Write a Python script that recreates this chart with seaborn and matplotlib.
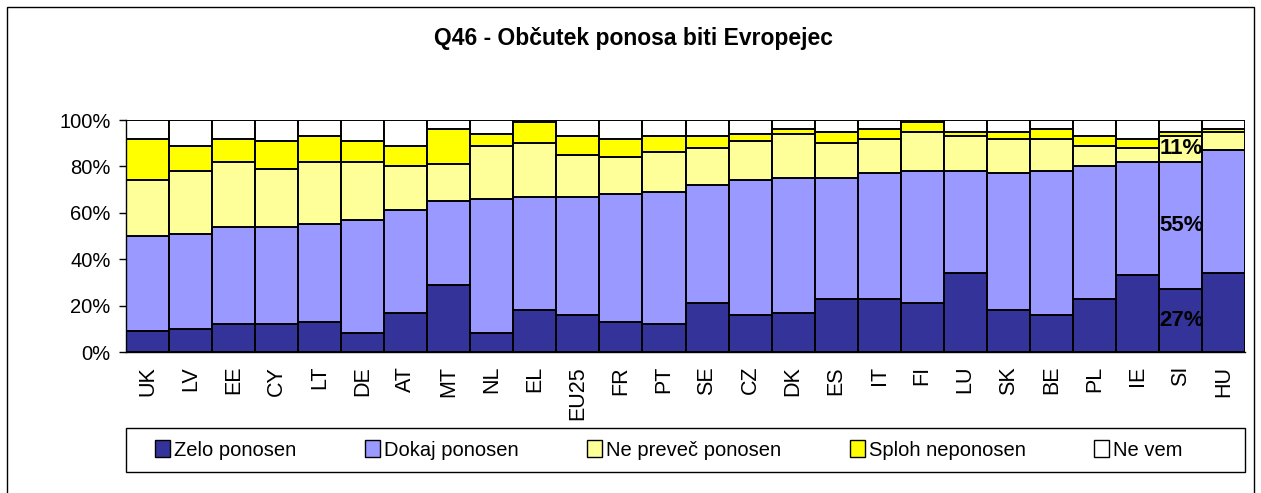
import numpy as np
import pandas as pd
import matplotlib
matplotlib.use("Agg")
import matplotlib.pyplot as plt
import seaborn as sns
from matplotlib.patches import Patch, Rectangle

# Podatki (odstotki)
countries = ["UK", "LV", "EE", "CY", "LT", "DE", "AT", "MT", "NL", "EL", "EU25", "FR", "PT",
             "SE", "CZ", "DK", "ES", "IT", "FI", "LU", "SK", "BE", "PL", "IE", "SI", "HU"]
zelo = [9, 10, 12, 12, 13, 8, 17, 29, 8, 18, 16, 13, 12, 21, 16, 17, 23, 23, 21, 34, 18, 16, 23, 33, 27, 34]
dokaj = [41, 41, 42, 42, 42, 49, 44, 36, 58, 49, 51, 55, 57, 51, 58, 58, 52, 54, 57, 44, 59, 62, 57, 49, 55, 53]
ne_prevec = [24, 27, 28, 25, 27, 25, 19, 16, 23, 23, 18, 16, 17, 16, 17, 19, 15, 15, 17, 15, 15, 14, 9, 6, 11, 8]
sploh = [18, 11, 10, 12, 11, 9, 9, 15, 5, 9, 8, 8, 7, 5, 3, 2, 5, 4, 4, 2, 3, 4, 4, 4, 2, 1]
ne_vem = [8, 11, 8, 9, 7, 9, 11, 4, 6, 1, 7, 8, 7, 7, 6, 4, 5, 4, 1, 5, 5, 4, 7, 8, 5, 4]

labels = ["Zelo ponosen", "Dokaj ponosen", "Ne preveč ponosen", "Sploh neponosen", "Ne vem"]
colors = ["#333399", "#9999FF", "#FFFF99", "#FFFF00", "#FFFFFF"]

sns.set_style("white")
plt.rcParams["font.family"] = ["Liberation Sans", "DejaVu Sans"]
plt.rcParams["text.color"] = "black"
plt.rcParams["xtick.color"] = "black"
plt.rcParams["ytick.color"] = "black"

df = pd.DataFrame({"country": countries, "Zelo ponosen": zelo, "Dokaj ponosen": dokaj,
                   "Ne preveč ponosen": ne_prevec, "Sploh neponosen": sploh, "Ne vem": ne_vem})
cum = df[labels].cumsum(axis=1)

W, H = 1261, 493
fig = plt.figure(figsize=(W / 100, H / 100), dpi=100)
ax = fig.add_axes([126 / W, 1 - 352 / H, (1245 - 126) / W, 232 / H])

# naložene stolpce rišemo od zgoraj navzdol (kumulativno)
for lab, col in zip(labels[::-1], colors[::-1]):
    sns.barplot(x=df["country"], y=cum[lab], color=col, width=1.0, edgecolor="black",
                linewidth=1.4, saturation=1, ax=ax)

ax.set_ylim(0, 100)
ax.set_xlim(-0.5, len(countries) - 0.5)
ax.set_yticks(np.arange(0, 101, 20))
ax.set_yticklabels([f"{v}%" for v in range(0, 101, 20)], fontsize=14.5)
ax.set_xticks(range(len(countries)))
ax.set_xticklabels(countries, rotation=90, fontsize=15.5)
ax.set_xticks(np.arange(0.5, len(countries) - 0.5, 1), minor=True)
ax.tick_params(axis="x", which="major", length=0, pad=10)
ax.tick_params(axis="x", which="minor", length=5, color="black", width=1)
ax.tick_params(axis="y", length=5, color="black", width=1, left=True, pad=6)
ax.set_xlabel("")
ax.set_ylabel("")
for s in ["top", "right"]:
    ax.spines[s].set_visible(False)
for s in ["left", "bottom"]:
    ax.spines[s].set_color("black")
    ax.spines[s].set_linewidth(1)

# oznake za SI
si = countries.index("SI")
si_vals = [zelo[si], dokaj[si], ne_prevec[si]]
si_bottom = [0, zelo[si], zelo[si] + dokaj[si]]
for v, b in zip(si_vals, si_bottom):
    ax.text(si + 0.02, b + v / 2, f"{v}%", ha="center", va="center", fontsize=16,
            fontweight="bold", color="black")

fig.text(634 / W, 1 - 38 / H, "Q46 - Občutek ponosa biti Evropejec", ha="center",
         va="center", fontsize=16.5, fontweight="bold")

# legenda
handles = [Patch(facecolor=c, edgecolor="black", linewidth=1) for c in colors]
leg = fig.legend(handles, labels, ncol=5, loc="center left",
                 bbox_to_anchor=(155 / W, 1 - 450 / H), fontsize=14.5, frameon=False,
                 handlelength=0.75, handleheight=0.9, handletextpad=0.2,
                 columnspacing=3.4, borderpad=0, borderaxespad=0)
fig.patches.append(Rectangle((126 / W, 1 - 472 / H), (1245 - 126) / W, 44 / H,
                             transform=fig.transFigure, fill=False, edgecolor="black",
                             linewidth=1))

# okvir grafikona
fig.patches.append(Rectangle((7 / W, -0.05), (1254 - 7) / W, 1.05 - 7 / H,
                             transform=fig.transFigure, fill=False, edgecolor="black",
                             linewidth=1))

fig.savefig("out.png", dpi=100)
